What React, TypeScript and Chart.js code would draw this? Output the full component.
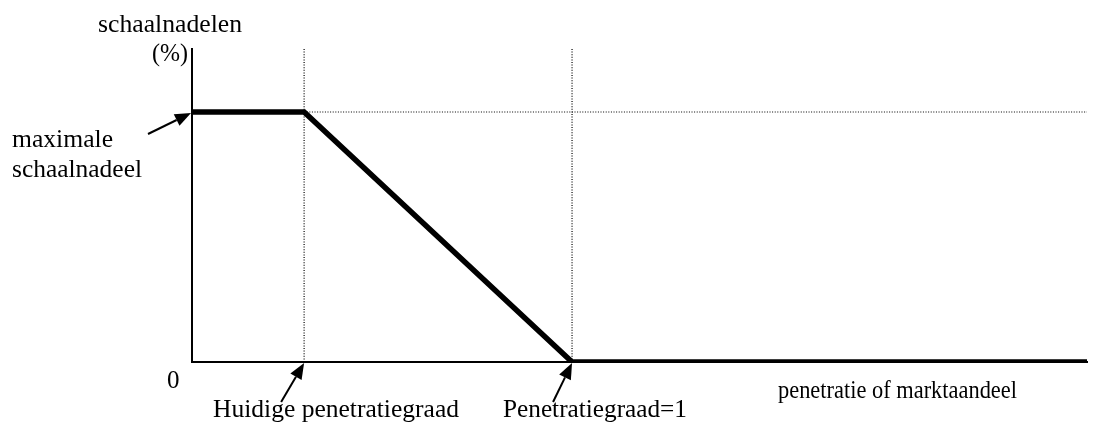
import React, { useEffect, useRef } from "react";
import { Chart, registerables } from "chart.js";

Chart.register(...registerables);

// Data (x: penetratie, y: schaalnadelen; full penetration = 1, maximum disadvantage = 1)
const curveX = [0, 0.295, 1, 2.355];
const curveY = [1, 1, 0, 0];
const currentPenetration = 0.295;
const fullPenetration = 1;
const maxDisadvantage = 1;
const xMax = 2.355;
const yMax = 1.252;

const labels = {
  yTitle: "schaalnadelen",
  yUnit: "(%)",
  maxLine1: "maximale",
  maxLine2: "schaalnadeel",
  zero: "0",
  current: "Huidige penetratiegraad",
  full: "Penetratiegraad=1",
  xTitle: "penetratie of marktaandeel",
};

const FONT = '25px "Liberation Serif", "Times New Roman", serif';

function drawArrow(ctx: CanvasRenderingContext2D, x1: number, y1: number, x2: number, y2: number) {
  const ang = Math.atan2(y2 - y1, x2 - x1);
  const headLen = 16;
  const headW = 6.5;
  const bx = x2 - headLen * Math.cos(ang);
  const by = y2 - headLen * Math.sin(ang);
  ctx.save();
  ctx.strokeStyle = "#000";
  ctx.fillStyle = "#000";
  ctx.lineWidth = 2;
  ctx.beginPath();
  ctx.moveTo(x1, y1);
  ctx.lineTo(bx, by);
  ctx.stroke();
  ctx.beginPath();
  ctx.moveTo(x2, y2);
  ctx.lineTo(bx + headW * Math.sin(ang), by - headW * Math.cos(ang));
  ctx.lineTo(bx - headW * Math.sin(ang), by + headW * Math.cos(ang));
  ctx.closePath();
  ctx.fill();
  ctx.restore();
}

function fitText(ctx: CanvasRenderingContext2D, text: string, left: number, right: number, baseline: number) {
  const w = ctx.measureText(text).width;
  ctx.save();
  ctx.translate(left, baseline);
  ctx.scale((right - left) / w, 1);
  ctx.fillText(text, 0, 0);
  ctx.restore();
}

const annotationPlugin = {
  id: "annotations",
  afterDraw(chart: any) {
    const ctx: CanvasRenderingContext2D = chart.ctx;
    const xs = chart.scales.x;
    const ys = chart.scales.y;
    const x0 = xs.getPixelForValue(0);
    const y0 = ys.getPixelForValue(0);
    const yM = ys.getPixelForValue(maxDisadvantage);
    const xC = xs.getPixelForValue(currentPenetration);
    const xF = xs.getPixelForValue(fullPenetration);

    // arrows
    drawArrow(ctx, x0 - 44, yM + 22, x0 - 1, yM + 1);
    drawArrow(ctx, xC - 23, y0 + 40, xC, y0 + 1);
    drawArrow(ctx, xF - 19, y0 + 40, xF, y0 + 1);

    ctx.save();
    ctx.font = FONT;
    ctx.fillStyle = "#000";
    ctx.textBaseline = "alphabetic";
    ctx.textAlign = "left";
    fitText(ctx, labels.yTitle, 98, 242, 32);
    fitText(ctx, labels.yUnit, 152, 188, 61);
    fitText(ctx, labels.maxLine1, 12, 113, 147);
    fitText(ctx, labels.maxLine2, 12, 142, 177);
    ctx.fillText(labels.zero, 167, 388);
    fitText(ctx, labels.current, 213, 459, 417);
    fitText(ctx, labels.full, 503, 687, 417);
    fitText(ctx, labels.xTitle, 778, 1017, 398);
    ctx.restore();
  },
};

export default function App() {
  const canvasRef = useRef<HTMLCanvasElement>(null);

  useEffect(() => {
    if (!canvasRef.current) return;
    const dotted = {
      showLine: true,
      borderColor: "#000",
      borderWidth: 1.2,
      borderDash: [1, 1.6],
      pointRadius: 0,
      order: 1,
    };
    const chart = new Chart(canvasRef.current, {
      type: "scatter",
      data: {
        datasets: [
          {
            label: "curve",
            data: curveX.map((x, i) => ({ x, y: curveY[i] })),
            showLine: true,
            borderColor: "#000",
            borderWidth: 5.5,
            pointRadius: 0,
            borderJoinStyle: "miter",
            borderCapStyle: "butt",
            order: 0,
          },
          {
            label: "current",
            data: [
              { x: currentPenetration, y: 0 },
              { x: currentPenetration, y: yMax },
            ],
            ...dotted,
          },
          {
            label: "full",
            data: [
              { x: fullPenetration, y: 0 },
              { x: fullPenetration, y: yMax },
            ],
            ...dotted,
          },
          {
            label: "max",
            data: [
              { x: currentPenetration, y: maxDisadvantage },
              { x: xMax, y: maxDisadvantage },
            ],
            ...dotted,
          },
        ],
      },
      options: {
        animation: false,
        responsive: false,
        maintainAspectRatio: false,
        layout: { padding: { left: 192, right: 8, top: 49, bottom: 62 } },
        plugins: { legend: { display: false }, tooltip: { enabled: false } },
        scales: {
          x: {
            type: "linear",
            min: 0,
            max: xMax,
            ticks: { display: false },
            grid: { display: false, drawTicks: false },
            border: { display: true, color: "#000", width: 2 },
          },
          y: {
            type: "linear",
            min: 0,
            max: yMax,
            ticks: { display: false },
            grid: { display: false, drawTicks: false },
            border: { display: true, color: "#000", width: 2 },
          },
        },
      },
      plugins: [annotationPlugin],
    });
    return () => chart.destroy();
  }, []);

  return (
    <div style={{ position: "absolute", left: 0, top: 0, width: 1095, height: 424, background: "#fff" }}>
      <canvas ref={canvasRef} width={1095} height={424} />
    </div>
  );
}
